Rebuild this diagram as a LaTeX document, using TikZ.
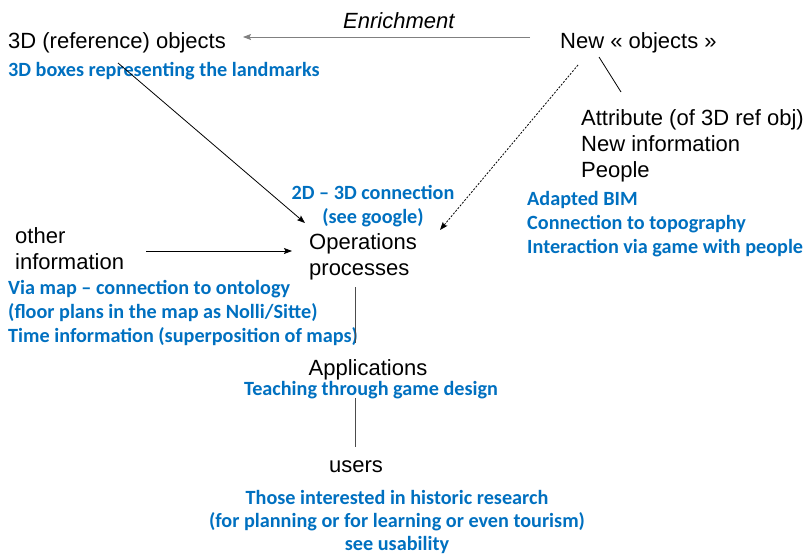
\documentclass[tikz,border=0pt]{standalone}
\usepackage{fontspec}
\setmainfont{Liberation Sans}
\newfontfamily\notefont{Carlito}
\usetikzlibrary{arrows.meta}
\definecolor{noteblue}{RGB}{0,112,192}
\tikzset{
	lbl/.style={inner sep=0pt, anchor=base west, align=left, font=\fontsize{22}{26}\selectfont},
	note/.style={inner sep=0pt, anchor=base west, align=left, text=noteblue, font=\notefont\bfseries\fontsize{20.2}{24}\selectfont},
	link/.style={line width=0.8pt},
	tip/.style={-{Stealth[length=8pt,width=6pt,inset=1.5pt]}}
}

\begin{document}
\begin{tikzpicture}[x=1pt, y=-1pt]
			%%%%% START %%%%%
			\useasboundingbox (0, 0) rectangle (806, 555);
			
			% upper left
			\node[lbl] (refobj) at (8, 48) {3D (reference) objects};
			\node[note] (refnote) at (8, 76) {3D boxes representing the landmarks};
			
			% upper right (base = last line)
			\node[lbl, font=\fontsize{22}{26}\selectfont\itshape] (enrich) at (343, 28) {Enrichment};
			\node[lbl] (newobj) at (560, 48) {New « objects »};
			\node[lbl] (attr) at (581, 177) {Attribute (of 3D ref obj)\\New information\\People};
			\node[note] (attrnote) at (527, 253) {Adapted BIM\\Connection to topography\\Interaction via game with people};
			
			% middle
			\node[note, align=center, anchor=base] (conn) at (373, 223) {2D – 3D connection\\(see google)};
			\node[lbl] (other) at (15, 269) {other\\information};
			\node[note] (othernote) at (8, 342) {Via map – connection to ontology\\(floor plans in the map as Nolli/Sitte)\\Time information (superposition of maps)};
			\node[lbl] (ops) at (309, 275) {Operations\\processes};
			
			% lower part
			\node[lbl, anchor=base] (apps) at (368, 375) {Applications};
			\node[note, anchor=base] (appsnote) at (371, 395) {Teaching through game design};
			\node[lbl, anchor=base] (users) at (356, 472) {users};
			\node[note, align=center, anchor=base, font=\notefont\bfseries\fontsize{20.2}{23}\selectfont] (usersnote) at (397, 550) {Those interested in historic research\\(for planning or for learning or even tourism)\\see usability};
			
			% connector ends
			\coordinate (enrich-a) at (530, 37);
			\coordinate (enrich-b) at (243, 37);
			\coordinate (ref-a) at (118, 63);
			\coordinate (ref-b) at (305, 223);
			\coordinate (new-a) at (578, 65);
			\coordinate (new-b) at (440, 230);
			\coordinate (attr-a) at (599, 57);
			\coordinate (attr-b) at (621, 92);
			\coordinate (other-a) at (146, 251);
			\coordinate (other-b) at (292, 251);
			\coordinate (ops-a) at (355, 287);
			\coordinate (ops-b) at (355, 343);
			\coordinate (apps-a) at (355, 398);
			\coordinate (apps-b) at (355, 447);
			
			\draw[link, tip, draw=black!50] (enrich-a) -- (enrich-b);
			\draw[link, tip] (ref-a) -- (ref-b);
			\draw[link, tip, dash pattern=on 2pt off 1.5pt] (new-a) -- (new-b);
			\draw[link] (attr-a) -- (attr-b);
			\draw[link, tip] (other-a) -- (other-b);
			\draw[link, draw=black!70] (ops-a) -- (ops-b);
			\draw[link, draw=black!70] (apps-a) -- (apps-b);
			
			%%%%% END %%%%%
		\end{tikzpicture}
\end{document}
